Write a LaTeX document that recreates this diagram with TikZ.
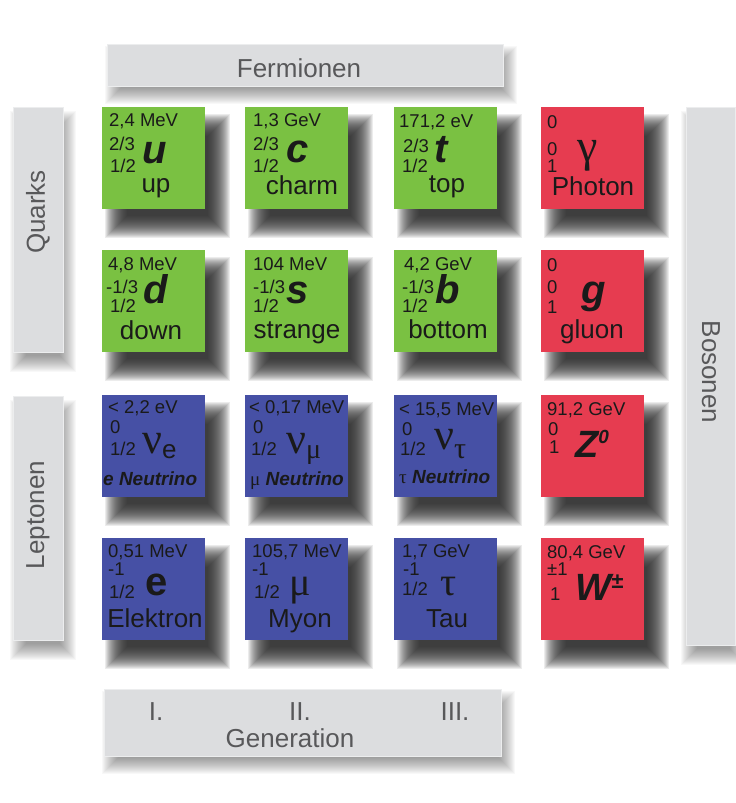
\documentclass[tikz,border=0pt]{standalone}
\usepackage{fontspec}
\setmainfont{Liberation Sans}
\newfontfamily\greekserif{Liberation Serif}

\definecolor{quarkgreen}{RGB}{122,193,66}
\definecolor{leptonblue}{RGB}{70,80,165}
\definecolor{bosonred}{RGB}{230,60,80}
\definecolor{barfill}{RGB}{220,221,223}
\definecolor{barline}{RGB}{236,237,238}
\definecolor{bartext}{RGB}{88,88,90}
\definecolor{ink}{RGB}{26,26,26}
\definecolor{shadowcol}{RGB}{40,40,40}

\newcommand\pInfoFont{\fontsize{18.5}{21}\selectfont}
\newcommand\pNameFont{\fontsize{26}{30}\selectfont}
\newcommand\pSymFont{\fontsize{40}{44}\selectfont\bfseries\itshape}
\newcommand\pBarFont{\fontsize{26}{30}\selectfont}

% soft drop shadow: stack of translucent rectangles, inflated from +r down to -r
% #1,#2 top left  #3,#4 bottom right  #5,#6 offset  #7 blur radius  #8 opacity per layer
\newcommand\dropshadow[8]{%
  \pgfmathtruncatemacro\kmax{2*#7}%
  \foreach \k in {0,...,\kmax}{%
    \fill[shadowcol, opacity=#8]
      (#1+#5-#7+\k, #2+#6-#7+\k) rectangle (#3+#5+#7-\k, #4+#6+#7-\k);
  }}
\newcommand\boxshadow[2]{\dropshadow{#1}{#2}{#1+103}{#2+102}{14}{18}{11}{0.085}}

\tikzset{
  particle/.style={anchor=north west, minimum width=103pt, minimum height=102pt,
    inner sep=0pt, draw=none},
  info/.style={anchor=base west, inner sep=0pt, font=\pInfoFont, text=ink},
  pname/.style={anchor=base, inner sep=0pt, font=\pNameFont, text=ink},
  psym/.style={anchor=base, inner sep=0pt, font=\pSymFont, text=ink},
  greeksym/.style={anchor=base, inner sep=0pt, font={\greekserif\fontsize{40}{44}\selectfont}, text=ink},
  nuname/.style={anchor=base west, inner sep=0pt,
    font={\fontsize{19}{21}\selectfont\bfseries\itshape}, text=ink},
  bar/.style={anchor=north west, fill=barfill, draw=barline, line width=0.8pt, inner sep=0pt},
  bartxt/.style={inner sep=0pt, font=\pBarFont, text=bartext}
}

\begin{document}
\begin{tikzpicture}[x=1pt, y=-1pt]
\useasboundingbox (0,0) rectangle (736,803);
\fill[white] (0,0) rectangle (736,803);

% ---- shadows of the grey category bars
\dropshadow{107}{44}{503}{86}{6}{10}{8}{0.03}
\dropshadow{13}{107}{63}{352}{5}{12}{8}{0.03}
\dropshadow{13}{396}{63}{640}{5}{12}{8}{0.03}
\dropshadow{686}{107}{735}{645}{3}{12}{8}{0.03}
\dropshadow{104}{689}{501}{756}{6}{10}{8}{0.03}

% ---- category bars
\node[bar, minimum width=396pt, minimum height=42pt] (fermbar) at (107,44) {};
\node[bartxt] (fermtxt) at (299,68) {Fermionen};

\node[bar, minimum width=50pt, minimum height=245pt] (quarkbar) at (13,107) {};
\node[bartxt, rotate=90] (quarktxt) at (38,212) {Quarks};

\node[bar, minimum width=50pt, minimum height=244pt] (leptbar) at (13,396) {};
\node[bartxt, rotate=90] (lepttxt) at (38,515) {Leptonen};

\node[bar, minimum width=49pt, minimum height=538pt] (bosbar) at (686,107) {};
\node[bartxt, rotate=-90] (bostxt) at (711,372) {Bosonen};

\node[bar, minimum width=397pt, minimum height=67pt] (genbar) at (104,689) {};
\node[bartxt] (gen1) at (156,712) {I.};
\node[bartxt] (gen2) at (300,712) {II.};
\node[bartxt] (gen3) at (455,712) {III.};
\node[bartxt] (gentxt) at (290,738) {Generation};

% ---- shadows of the particle cards
\foreach \cx in {102,245,394,541}{
  \foreach \cy in {107,250,395,538}{
    \boxshadow{\cx}{\cy}
  }}

% ---- particle cards
\node[particle, fill=quarkgreen] (u)   at (102,107) {};
\node[particle, fill=quarkgreen] (c)   at (245,107) {};
\node[particle, fill=quarkgreen] (t)   at (394,107) {};
\node[particle, fill=bosonred]   (gam) at (541,107) {};

\node[particle, fill=quarkgreen] (d)   at (102,250) {};
\node[particle, fill=quarkgreen] (s)   at (245,250) {};
\node[particle, fill=quarkgreen] (b)   at (394,250) {};
\node[particle, fill=bosonred]   (glu) at (541,250) {};

\node[particle, fill=leptonblue] (nue)   at (102,395) {};
\node[particle, fill=leptonblue] (numu)  at (245,395) {};
\node[particle, fill=leptonblue] (nutau) at (394,395) {};
\node[particle, fill=bosonred]   (zb)    at (541,395) {};

\node[particle, fill=leptonblue] (e)   at (102,538) {};
\node[particle, fill=leptonblue] (mu)  at (245,538) {};
\node[particle, fill=leptonblue] (tau) at (394,538) {};
\node[particle, fill=bosonred]   (wb)  at (541,538) {};

% ---- up
\node[info] (u-m) at (109,126) {2,4 MeV};
\node[info] (u-q) at (109,150) {2/3};
\node[info] (u-s) at (110,172) {1/2};
\node[psym] (u-y) at (155,163) {u};
\node[pname] (u-n) at (156,192) {up};
% ---- charm
\node[info] (c-m) at (253,126) {1,3 GeV};
\node[info] (c-q) at (253,150) {2/3};
\node[info] (c-s) at (253,172) {1/2};
\node[psym] (c-y) at (298,162) {c};
\node[pname] (c-n) at (302,194) {charm};
% ---- top
\node[info] (t-m) at (399,127) {171,2 eV};
\node[info] (t-q) at (403,152) {2/3};
\node[info] (t-s) at (402,172) {1/2};
\node[psym] (t-y) at (441,162) {t};
\node[pname] (t-n) at (447,192) {top};
% ---- photon
\node[info] (gam-m) at (547,128) {0};
\node[info] (gam-q) at (547,155) {0};
\node[info] (gam-s) at (547,172) {1};
\node[greeksym, font={\greekserif\fontsize{46}{48}\selectfont}] (gam-y) at (588,161) {γ};
\node[pname] (gam-n) at (593,195) {Photon};

% ---- down
\node[info] (d-m) at (108,270) {4,8 MeV};
\node[info] (d-q) at (106,293) {-1/3};
\node[info] (d-s) at (110,312) {1/2};
\node[psym] (d-y) at (156,303) {d};
\node[pname] (d-n) at (151,339) {down};
% ---- strange
\node[info] (s-m) at (253,270) {104 MeV};
\node[info] (s-q) at (253,293) {-1/3};
\node[info] (s-s) at (253,312) {1/2};
\node[psym] (s-y) at (298,303) {s};
\node[pname] (s-n) at (297,338) {strange};
% ---- bottom
\node[info] (b-m) at (404,270) {4,2 GeV};
\node[info] (b-q) at (402,293) {-1/3};
\node[info] (b-s) at (402,312) {1/2};
\node[psym] (b-y) at (448,303) {b};
\node[pname] (b-n) at (448,338) {bottom};
% ---- gluon
\node[info] (glu-m) at (547,271) {0};
\node[info] (glu-q) at (547,293) {0};
\node[info] (glu-s) at (547,313) {1};
\node[psym] (glu-y) at (594,303) {g};
\node[pname] (glu-n) at (592,338) {gluon};

% ---- electron neutrino
\node[info] (nue-m) at (108,413) {< 2,2 eV};
\node[info] (nue-q) at (110,433) {0};
\node[info] (nue-s) at (110,455) {1/2};
\node[anchor=base west, inner sep=0pt, text=ink] (nue-y) at (142,453)
  {{\greekserif\fontsize{44}{44}\selectfont ν}\raisebox{-5pt}{\fontsize{26}{26}\selectfont e}};
\node[nuname] (nue-n) at (103,485) {e Neutrino};
% ---- muon neutrino
\node[info] (numu-m) at (249,413) {< 0,17 MeV};
\node[info] (numu-q) at (253,433) {0};
\node[info] (numu-s) at (251,455) {1/2};
\node[anchor=base west, inner sep=0pt, text=ink] (numu-y) at (286,453)
  {{\greekserif\fontsize{44}{44}\selectfont ν}\raisebox{-5pt}{\greekserif\fontsize{28}{28}\selectfont μ}};
\node[nuname] (numu-n) at (250,485) {{\greekserif\mdseries\upshape μ} Neutrino};
% ---- tau neutrino
\node[info] (nutau-m) at (399,415) {< 15,5 MeV};
\node[info] (nutau-q) at (402,435) {0};
\node[info] (nutau-s) at (400,455) {1/2};
\node[anchor=base west, inner sep=0pt, text=ink] (nutau-y) at (434,449)
  {{\greekserif\fontsize{44}{44}\selectfont ν}\raisebox{-9pt}{\greekserif\fontsize{30}{30}\selectfont τ}};
\node[nuname] (nutau-n) at (399,483) {{\greekserif\mdseries\upshape τ} Neutrino};
% ---- Z boson
\node[info] (zb-m) at (547,415) {91,2 GeV};
\node[info] (zb-q) at (548,435) {0};
\node[info] (zb-s) at (549,453) {1};
\node[anchor=base west, inner sep=0pt, text=ink, font={\fontsize{38}{40}\selectfont\bfseries\itshape}]
  (zb-y) at (575,457) {Z\raisebox{14pt}{\fontsize{19}{19}\selectfont 0}};

% ---- electron
\node[info] (e-m) at (108,557) {0,51 MeV};
\node[info] (e-q) at (108,575) {-1};
\node[info] (e-s) at (109,598) {1/2};
\node[anchor=base, inner sep=0pt, text=ink, font={\fontsize{40}{44}\selectfont\bfseries}]
  (e-y) at (157,595) {e};
\node[pname] (e-n) at (155,627) {Elektron};
% ---- muon
\node[info] (mu-m) at (252,557) {105,7 MeV};
\node[info] (mu-q) at (252,575) {-1};
\node[info] (mu-s) at (254,598) {1/2};
\node[greeksym, font={\greekserif\fontsize{40}{42}\selectfont}] (mu-y) at (300,595) {μ};
\node[pname] (mu-n) at (300,627) {Myon};
% ---- tau
\node[info] (tau-m) at (402,557) {1,7 GeV};
\node[info] (tau-q) at (403,575) {-1};
\node[info] (tau-s) at (402,595) {1/2};
\node[greeksym, font={\greekserif\fontsize{40}{42}\selectfont}] (tau-y) at (449,595) {τ};
\node[pname] (tau-n) at (447,627) {Tau};
% ---- W boson
\node[info] (wb-m) at (547,558) {80,4 GeV};
\node[info] (wb-q) at (547,575) {±1};
\node[info] (wb-s) at (550,600) {1};
\node[anchor=base west, inner sep=0pt, text=ink, font={\fontsize{38}{40}\selectfont\bfseries\itshape}]
  (wb-y) at (575,600) {W\raisebox{12pt}{\fontsize{22}{22}\selectfont ±}};
\end{tikzpicture}
\end{document}
